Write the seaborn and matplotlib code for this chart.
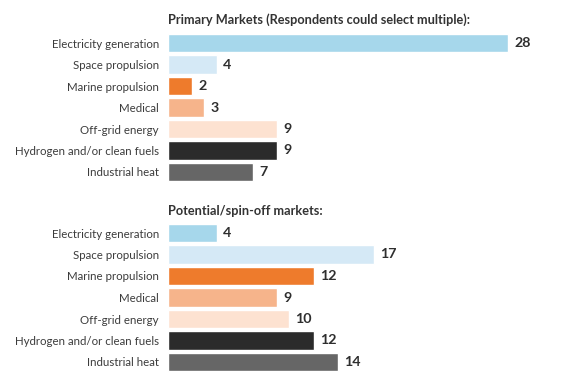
import matplotlib
matplotlib.use("Agg")
import matplotlib.pyplot as plt
import seaborn as sns
import pandas as pd

categories = ["Electricity generation", "Space propulsion", "Marine propulsion",
              "Medical", "Off-grid energy", "Hydrogen and/or clean fuels", "Industrial heat"]
primary_values = [28, 4, 2, 3, 9, 9, 7]
potential_values = [4, 17, 12, 9, 10, 12, 14]
titles = ["Primary Markets (Respondents could select multiple):", "Potential/spin-off markets:"]
colors = ["#a6d7eb", "#d5e9f6", "#ee7b2c", "#f6b48b", "#fde2d1", "#2b2b2b", "#666666"]

sns.set_theme(style="white")
plt.rcParams["font.family"] = ["Lato", "DejaVu Sans"]

fig = plt.figure(figsize=(5.76, 3.86), dpi=100)
W, H = 576, 386
left = 168 / W
ax_h = 150.5 / H
axes = [fig.add_axes([left, 1 - 182.75 / H, 1 - left, ax_h]),
        fig.add_axes([left, 1 - 372.75 / H, 1 - left, ax_h])]
title_y = [20, 211]

for ax, vals, title, ty in zip(axes, [primary_values, potential_values], titles, title_y):
    df = pd.DataFrame({"category": categories, "value": vals})
    sns.barplot(data=df, x="value", y="category", hue="category", palette=colors,
                order=categories, hue_order=categories, legend=False, width=0.85,
                saturation=1, ax=ax)
    for c in ax.containers:
        ax.bar_label(c, padding=4.3, fontsize=10.3, fontweight="bold", color="#2e2e2e",
                     family=["Lato", "DejaVu Sans"])
    ax.set_xlim(0, 33.6)
    ax.set_ylim(6.5, -0.5)
    ax.set_xlabel("")
    ax.set_ylabel("")
    ax.set_xticks([])
    ax.tick_params(axis="y", length=0, pad=6.5, labelsize=8.3, labelcolor="#3c3c3c")
    for s in ax.spines.values():
        s.set_visible(False)
    fig.text(left, 1 - ty / H, title, ha="left", va="center", fontsize=9.2,
             fontweight="bold", color="#333333")

fig.savefig("out.png", dpi=100)
